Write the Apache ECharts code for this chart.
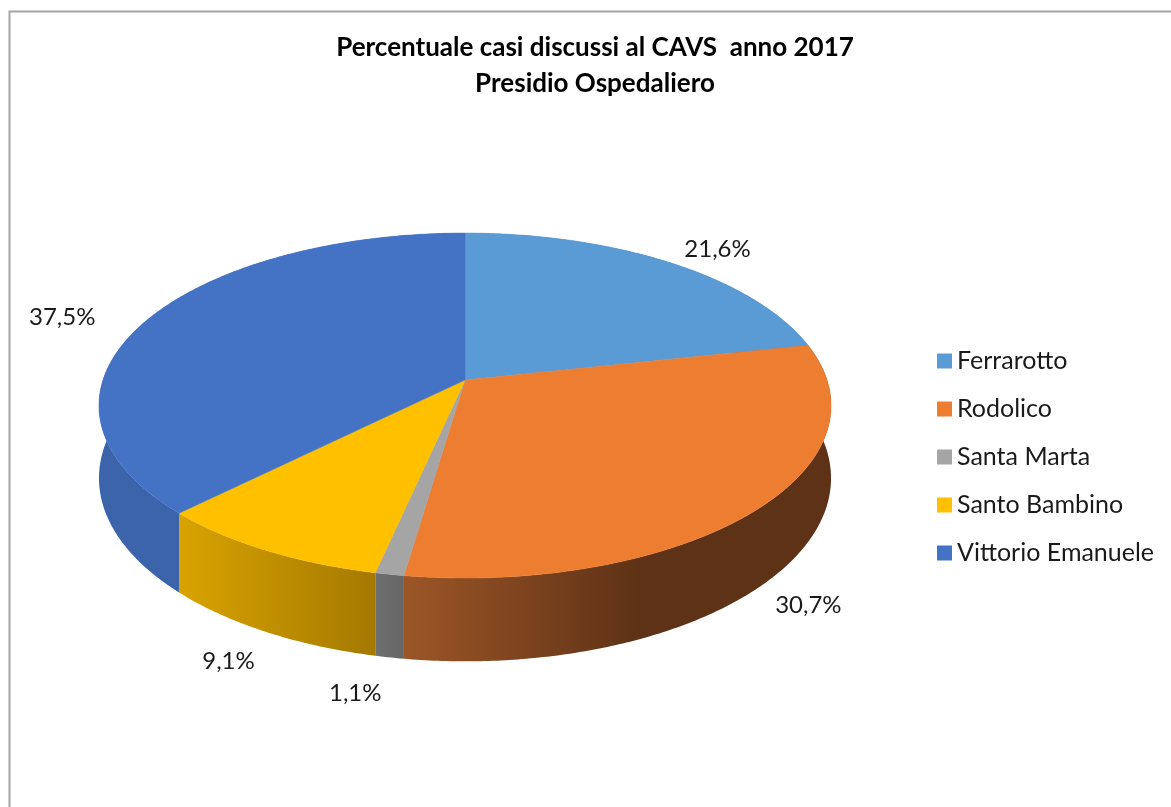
<!DOCTYPE html>
<html><head><meta charset="utf-8">
<script src="https://cdn.jsdelivr.net/npm/echarts@6/dist/echarts.min.js"></script>
<style>html,body{margin:0;padding:0;background:#fff}#c{width:1171px;height:807px}</style>
</head><body><div id="c"></div>
<script>
// ---- data ----
const categories = ['Ferrarotto', 'Rodolico', 'Santa Marta', 'Santo Bambino', 'Vittorio Emanuele'];
const values = [21.6, 30.7, 1.1, 9.1, 37.5];
const labelTexts = ['21,6%', '30,7%', '1,1%', '9,1%', '37,5%'];

// ---- style / layout ----
const topColors = ['#5B9BD5', '#ED7D31', '#A5A5A5', '#FFC000', '#4472C4'];
const wallStops = [
  [[0, '#4A82B8'], [1, '#3E6E9C']],
  [[0, '#9C5627'], [0.55, '#5E3216'], [1, '#5E3216']],
  [[0, '#6E6E6E'], [1, '#666666']],
  [[0, '#D9A300'], [1, '#A47900']],
  [[0, '#3B64AA'], [1, '#3A61A5']]
];
const labelNudge = [[13, 8], [-18, -13], [-16, -14], [10, -13], [-27, 10]];
const GEO = { cx: 465, cy: 380, a: 362, b: 168.7, k: -0.148, depth: 71 };
const FONT = 'Lato, "Noto Sans", sans-serif';

const total = values.reduce((s, v) => s + v, 0);
function angles(i) {
  let s = 0;
  for (let j = 0; j < i; j++) s += values[j];
  return [s / total * Math.PI * 2, (s + values[i]) / total * Math.PI * 2];
}
function proj(r, th, dz) {
  const u = r * Math.sin(th), v = -r * Math.cos(th);
  const d = 1 + GEO.k * v;
  return [GEO.cx + GEO.a * u / d, GEO.cy + (GEO.b * v + dz) / d];
}
function arc(th0, th1, dz) {
  const pts = [];
  const n = Math.max(2, Math.ceil(Math.abs(th1 - th0) / 0.01));
  for (let i = 0; i <= n; i++) pts.push(proj(1, th0 + (th1 - th0) * i / n, dz));
  return pts;
}

function wallItem(params) {
  const i = params.dataIndex;
  const [s, e] = angles(i);
  const top = arc(s, e, 0);
  const bot = arc(s, e, GEO.depth).reverse();
  return {
    type: 'polygon',
    shape: { points: top.concat(bot) },
    style: {
      fill: { type: 'linear', x: 0, y: 0, x2: 1, y2: 0,
        colorStops: wallStops[i].map(c => ({ offset: c[0], color: c[1] })) },
      stroke: null
    }
  };
}
function topItem(i) {
  return function () {
    const [s, e] = angles(i);
    const pts = [[GEO.cx, GEO.cy]].concat(arc(s, e, 0));
    return { type: 'polygon', shape: { points: pts },
      style: { fill: topColors[i], stroke: topColors[i], lineWidth: 0.5 } };
  };
}
function labelItem(params) {
  const i = params.dataIndex;
  const [s, e] = angles(i);
  const m = (s + e) / 2;
  const v = -Math.cos(m);
  const p = proj(1.2, m, v > 0 ? GEO.depth : 0);
  return {
    type: 'text',
    x: p[0] + labelNudge[i][0], y: p[1] + labelNudge[i][1],
    style: { text: labelTexts[i], align: 'center', verticalAlign: 'middle',
      font: '24px ' + FONT, fill: '#1a1a1a' }
  };
}

const series = [{
  type: 'custom', name: 'walls', coordinateSystem: 'none', z: 1,
  data: values, renderItem: wallItem, silent: true
}];
categories.forEach((c, i) => {
  series.push({
    type: 'custom', name: c, coordinateSystem: 'none', z: 2,
    itemStyle: { color: topColors[i] },
    data: [values[i]], renderItem: topItem(i), silent: true
  });
});
series.push({
  type: 'custom', name: 'labels', coordinateSystem: 'none', z: 3,
  data: values, renderItem: labelItem, silent: true
});

const chart = echarts.init(document.getElementById('c'), null, { renderer: 'canvas' });
chart.setOption({
  backgroundColor: '#fff',
  animation: false,
  title: {
    text: 'Percentuale casi discussi al CAVS  anno 2017\nPresidio Ospedaliero',
    left: 595, top: 30, padding: 0, textAlign: 'center',
    textStyle: { fontFamily: FONT, fontSize: 26, fontWeight: 'bold', color: '#000', lineHeight: 36 }
  },
  legend: {
    data: categories, orient: 'vertical', left: 937, top: 346, padding: 0,
    icon: 'rect', itemWidth: 15, itemHeight: 15, itemGap: 18,
    textStyle: { fontFamily: FONT, fontSize: 25, color: '#1a1a1a', lineHeight: 30 },
    selectedMode: false
  },
  graphic: [{
    type: 'rect', left: 7, top: 9, shape: { width: 1300, height: 900 },
    style: { fill: null, stroke: '#A6A6A6', lineWidth: 2 }, silent: true
  }],
  series: series
});
</script></body></html>
